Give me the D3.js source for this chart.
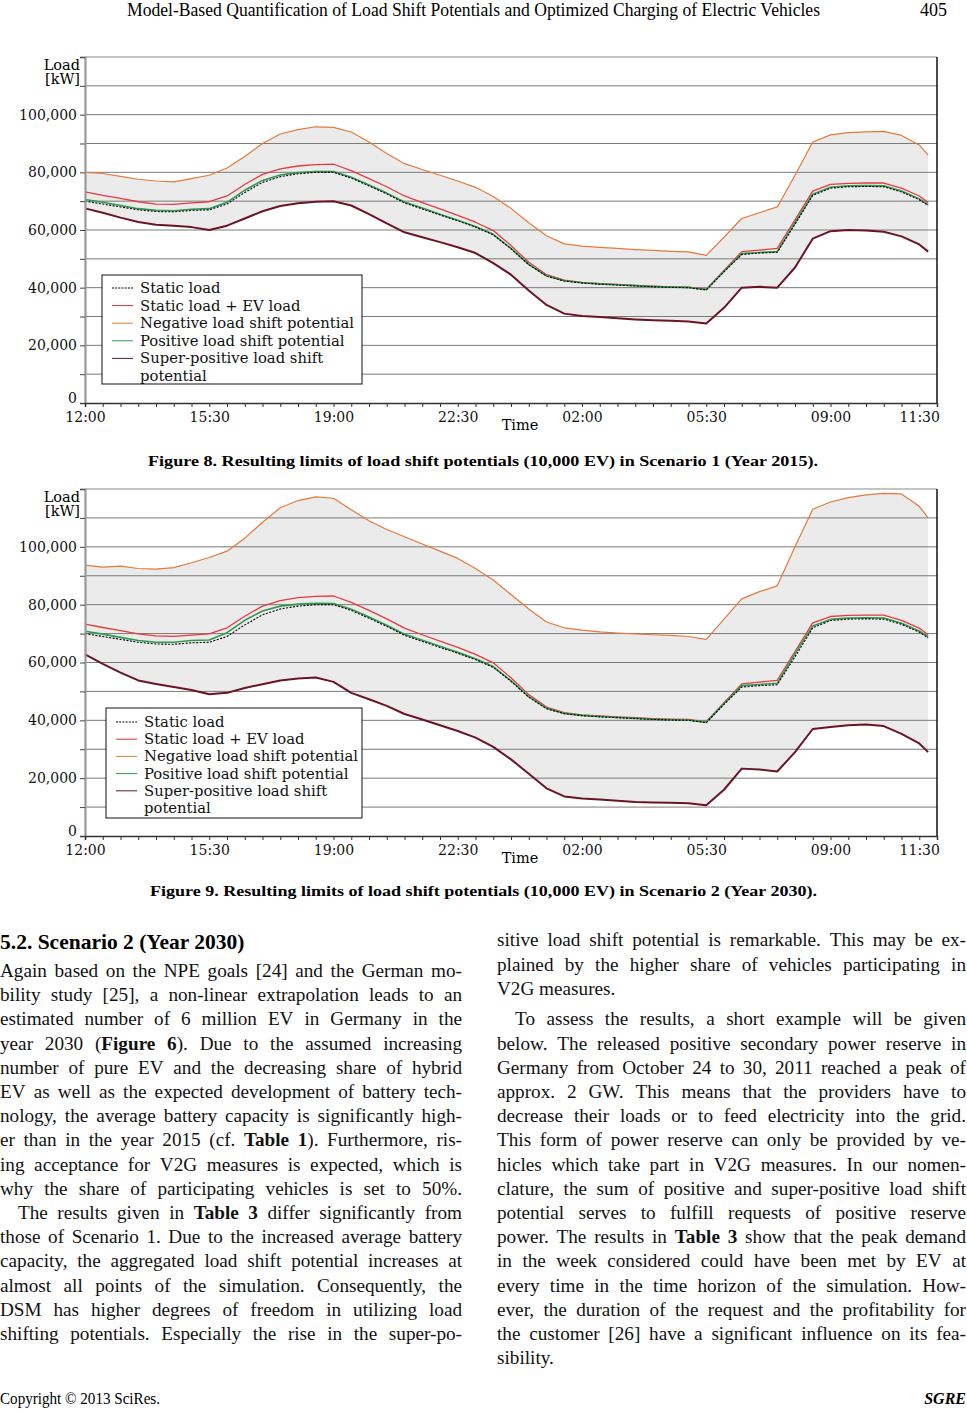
<!DOCTYPE html>
<html><head><meta charset="utf-8">
<script src="https://cdn.jsdelivr.net/npm/d3@7"></script>
<style>body{margin:0;background:#fff}svg{display:block}</style>
</head><body>
<svg id="page" width="967" height="1414"></svg>
<script>
// ---------------- DATA ----------------
const times = ["12:00","12:30","13:00","13:30","14:00","14:30","15:00","15:30","16:00","16:30","17:00","17:30","18:00","18:30","19:00","19:30","20:00","20:30","21:00","21:30","22:00","22:30","23:00","23:30","00:00","00:30","01:00","01:30","02:00","02:30","03:00","03:30","04:00","04:30","05:00","05:30","06:00","06:30","07:00","07:30","08:00","08:30","09:00","09:30","10:00","10:30","11:00","11:30","11:45"];
const xTickLabels = ["12:00","15:30","19:00","22:30","02:00","05:30","09:00","11:30"];
const yTickValues = [0,10000,20000,30000,40000,50000,60000,70000,80000,90000,100000,110000,120000];
const yLabelValues = [0,20000,40000,60000,80000,100000];

// Figure 8 (Scenario 1), values in 1,000 kW
const static1K = [70.0,69.0,68.0,67.0,66.4,66.3,66.8,67.0,69.0,73.0,76.5,78.5,79.5,80.0,80.0,78.0,75.3,72.5,69.4,67.3,65.2,63.2,61.0,58.3,53.5,48.0,44.0,42.3,41.6,41.2,40.9,40.6,40.3,40.1,40.0,39.2,45.5,51.5,52.0,52.3,62.0,72.0,74.5,75.0,75.1,75.0,73.2,70.5,68.5];
const staticEV1K = [73.2,72.0,71.0,69.8,69.0,68.9,69.4,69.8,71.8,75.8,79.3,81.2,82.2,82.7,82.8,80.6,77.8,75.0,71.8,69.5,67.3,65.1,62.7,59.8,54.6,48.8,44.5,42.6,41.8,41.4,41.1,40.8,40.5,40.3,40.2,39.5,46.0,52.5,53.0,53.6,63.5,73.5,75.8,76.2,76.3,76.3,74.5,71.8,69.5];
const negative1K = [80.0,79.6,78.6,77.6,77.0,76.7,77.8,79.0,81.5,85.5,90.0,93.3,94.8,95.8,95.6,94.0,90.5,86.5,83.0,81.0,79.0,77.0,74.8,71.6,67.5,62.5,58.0,55.2,54.4,54.0,53.6,53.2,52.9,52.6,52.4,51.2,57.5,64.0,66.0,68.0,79.0,90.5,93.0,93.8,94.0,94.2,92.8,89.5,86.0];
const positive1K = [70.6,69.6,68.5,67.4,66.8,66.7,67.2,67.4,69.6,73.8,77.2,79.1,79.9,80.3,80.3,78.3,75.6,72.8,69.7,67.6,65.5,63.4,61.2,58.5,53.6,48.1,44.1,42.4,41.7,41.3,41.0,40.7,40.4,40.2,40.1,39.3,45.7,51.8,52.2,52.5,62.5,72.4,74.8,75.3,75.4,75.3,73.5,70.8,68.8];
const superPos1K = [67.5,66.0,64.3,62.8,61.8,61.5,61.0,60.0,61.5,64.0,66.5,68.3,69.3,69.8,70.0,68.5,65.5,62.3,59.2,57.5,55.8,54.0,52.0,48.5,44.5,39.0,34.0,31.0,30.2,29.8,29.4,29.0,28.7,28.5,28.3,27.6,33.0,40.0,40.3,40.0,47.0,57.0,59.6,60.0,59.8,59.4,57.8,55.0,52.5];

// Figure 9 (Scenario 2), values in 1,000 kW
const static2K = [70.0,69.0,68.0,67.0,66.4,66.3,66.8,67.0,69.0,73.0,76.5,78.5,79.5,80.0,80.0,78.0,75.3,72.5,69.4,67.3,65.2,63.2,61.0,58.3,53.5,48.0,44.0,42.3,41.6,41.2,40.9,40.6,40.3,40.1,40.0,39.2,45.5,51.5,52.0,52.3,62.0,72.0,74.5,75.0,75.1,75.0,73.2,70.5,68.5];
const staticEV2K = [73.3,72.1,71.0,69.9,69.2,69.0,69.5,69.9,72.0,76.0,79.5,81.4,82.4,82.9,83.0,80.8,78.0,75.1,71.9,69.6,67.4,65.2,62.8,59.9,54.7,48.9,44.6,42.7,41.9,41.5,41.2,40.9,40.6,40.4,40.3,39.5,46.1,52.6,53.2,53.8,63.8,73.7,75.9,76.3,76.4,76.4,74.6,71.9,69.6];
const negative2K = [93.7,93.0,93.3,92.5,92.3,92.8,94.5,96.3,98.5,103.0,108.5,113.5,116.0,117.3,116.8,112.8,109.0,106.0,103.5,101.0,98.5,96.0,92.5,88.5,83.5,78.5,74.0,72.0,71.2,70.6,70.2,69.9,69.6,69.4,69.0,68.0,75.0,82.0,84.5,86.5,100.0,113.0,115.5,117.0,118.0,118.5,118.3,114.0,110.0];
const positive2K = [70.8,69.8,68.7,67.6,67.0,67.0,67.6,67.8,70.3,74.6,77.8,79.5,80.2,80.5,80.4,78.4,75.7,72.9,69.8,67.7,65.6,63.5,61.3,58.6,53.7,48.2,44.2,42.4,41.7,41.3,41.0,40.7,40.4,40.2,40.1,39.3,45.8,52.0,52.4,52.8,63.0,72.6,74.9,75.4,75.5,75.4,73.6,70.9,68.9];
const superPos2K = [62.8,59.5,56.5,53.8,52.6,51.5,50.5,49.0,49.5,51.2,52.5,53.8,54.5,54.8,53.3,49.5,47.3,45.0,42.2,40.3,38.3,36.3,34.0,30.8,26.5,21.5,16.5,13.7,13.0,12.6,12.2,11.8,11.6,11.5,11.3,10.6,16.0,23.3,23.0,22.3,29.0,37.0,37.7,38.3,38.6,38.0,35.3,32.0,29.0];

const legendLabels = ["Static load","Static load + EV load","Negative load shift potential","Positive load shift potential","Super-positive load shift","potential"];

const headerText = "Model-Based Quantification of Load Shift Potentials and Optimized Charging of Electric Vehicles";
const caption8 = "Figure 8. Resulting limits of load shift potentials (10,000 EV) in Scenario 1 (Year 2015).";
const caption9 = "Figure 9. Resulting limits of load shift potentials (10,000 EV) in Scenario 2 (Year 2030).";
const sectionTitle = "5.2. Scenario 2 (Year 2030)";
const leftLines = [
 ["Again based on the NPE goals [24] and the German mo-",1,0],
 ["bility study [25], a non-linear extrapolation leads to an",1,0],
 ["estimated number of 6 million EV in Germany in the",1,0],
 ["year 2030 (*Figure 6*). Due to the assumed increasing",1,0],
 ["number of pure EV and the decreasing share of hybrid",1,0],
 ["EV as well as the expected development of battery tech-",1,0],
 ["nology, the average battery capacity is significantly high-",1,0],
 ["er than in the year 2015 (cf. *Table 1*). Furthermore, ris-",1,0],
 ["ing acceptance for V2G measures is expected, which is",1,0],
 ["why the share of participating vehicles is set to 50%.",1,0],
 ["The results given in *Table 3* differ significantly from",1,1],
 ["those of Scenario 1. Due to the increased average battery",1,0],
 ["capacity, the aggregated load shift potential increases at",1,0],
 ["almost all points of the simulation. Consequently, the",1,0],
 ["DSM has higher degrees of freedom in utilizing load",1,0],
 ["shifting potentials. Especially the rise in the super-po-",1,0]
];
const rightLines = [
 ["sitive load shift potential is remarkable. This may be ex-",1,0],
 ["plained by the higher share of vehicles participating in",1,0],
 ["V2G measures.",0,0],
 ["To assess the results, a short example will be given",1,1],
 ["below. The released positive secondary power reserve in",1,0],
 ["Germany from October 24 to 30, 2011 reached a peak of",1,0],
 ["approx. 2 GW. This means that the providers have to",1,0],
 ["decrease their loads or to feed electricity into the grid.",1,0],
 ["This form of power reserve can only be provided by ve-",1,0],
 ["hicles which take part in V2G measures. In our nomen-",1,0],
 ["clature, the sum of positive and super-positive load shift",1,0],
 ["potential serves to fulfill requests of positive reserve",1,0],
 ["power. The results in *Table 3* show that the peak demand",1,0],
 ["in the week considered could have been met by EV at",1,0],
 ["every time in the time horizon of the simulation. How-",1,0],
 ["ever, the duration of the request and the profitability for",1,0],
 ["the customer [26] have a significant influence on its fea-",1,0],
 ["sibility.",0,0]
];

// ---------------- DRAWING ----------------
const svg = d3.select("#page");
const chartFont = "DejaVu Serif";
const textFont = "Liberation Serif";
const hoursOf = s => { const [h,m] = s.split(":").map(Number); return ((h - 12 + 24) % 24) + m/60; };
const x = d3.scaleLinear().domain([0,24]).range([85,937]);

const COL = {static:"#000000", ev:"#e63b3f", neg:"#e47a3b", pos:"#2f9a52", sup:"#6a1428"};

function drawChart(c) {
  const y = d3.scaleLinear().domain([0,120000]).range([c.bottom, c.top]);
  const g = svg.append("g");
  const pts = times.map((t,i) => ({h:hoursOf(t), st:c.st[i]*1000, ev:c.ev[i]*1000, neg:c.neg[i]*1000, pos:c.pos[i]*1000, sup:c.sup[i]*1000}));

  g.append("path").datum(pts)
    .attr("d", d3.area().x(d=>x(d.h)).y0(d=>y(d.sup)).y1(d=>y(d.neg)))
    .attr("fill","#ebebeb");

  g.selectAll("line.grid").data(yTickValues.filter(v=>v>0)).join("line")
    .attr("x1",x(0)).attr("x2",x(24)).attr("y1",d=>y(d)).attr("y2",d=>y(d))
    .attr("stroke", d => d===120000 ? "#8a8a8a" : "#7a7a7a").attr("stroke-width",1);
  g.append("line").attr("x1",x(24)).attr("x2",x(24)).attr("y1",y(120000)).attr("y2",y(0))
    .attr("stroke","#111").attr("stroke-width",1.5);

  const line = key => d3.line().x(d=>x(d.h)).y(d=>y(d[key]));
  const series = [
    {k:"sup", c:COL.sup, w:2},
    {k:"neg", c:COL.neg, w:1.2},
    {k:"ev", c:COL.ev, w:1.3},
    {k:"pos", c:COL.pos, w:1.6},
    {k:"st", c:COL.static, w:1.1, dash:"2,1.5"}
  ];
  series.forEach(s => {
    g.append("path").datum(pts).attr("d", line(s.k)).attr("fill","none")
      .attr("stroke", s.c).attr("stroke-width", s.w).attr("stroke-linejoin","round")
      .attr("stroke-dasharray", s.dash || null);
  });

  // axes
  const ya = g.append("g").attr("transform",`translate(${x(0)},0)`)
    .call(d3.axisLeft(y).tickValues(yTickValues).tickSize(5).tickPadding(3)
      .tickFormat(d => yLabelValues.includes(d) ? d3.format(",")(d) : ""));
  ya.select(".domain").attr("stroke","#999").attr("stroke-width",2.2);
  ya.selectAll(".tick line").attr("stroke","#444");
  ya.selectAll("text").attr("font-family",chartFont).attr("font-size",14).attr("fill","#111");
  ya.selectAll(".tick").filter(d => d===0).select("text").attr("dy","-0.05em");

  const xTicks = times.slice(0,48).map(hoursOf).concat([24]);
  const labelHours = xTickLabels.map(hoursOf);
  const xa = g.append("g").attr("transform",`translate(0,${y(0)})`)
    .call(d3.axisBottom(x).tickValues(xTicks).tickSize(4).tickPadding(5)
      .tickFormat(d => { const i = labelHours.indexOf(d); return i>=0 ? xTickLabels[i] : ""; }));
  xa.select(".domain").attr("stroke","#333").attr("stroke-width",1.5);
  xa.selectAll(".tick line").attr("stroke","#333");
  xa.selectAll("text").attr("font-family",chartFont).attr("font-size",14).attr("fill","#111");

  g.append("text").attr("x",80).attr("y",c.top+13).attr("text-anchor","end")
    .attr("font-family",chartFont).attr("font-size",14.5).text("Load");
  g.append("text").attr("x",80).attr("y",c.top+27).attr("text-anchor","end")
    .attr("font-family",chartFont).attr("font-size",14.5).text("[kW]");
  g.append("text").attr("x",520).attr("y",y(0)+27).attr("text-anchor","middle")
    .attr("font-family",chartFont).attr("font-size",14.5).text("Time");

  // legend
  const L = c.legend;
  const lg = g.append("g");
  lg.append("rect").attr("x",L.x).attr("y",L.y).attr("width",L.w).attr("height",L.h)
    .attr("fill","#fff").attr("stroke","#111").attr("stroke-width",1);
  const legCols = [COL.static,"#c8343a","#d9822b","#2f9a52","#5c1a2a",null];
  legendLabels.forEach((lab,i) => {
    const cy = L.y + L.first + i*L.step;
    if (legCols[i]) lg.append("line").attr("x1",L.x+10).attr("x2",L.x+31).attr("y1",cy).attr("y2",cy)
      .attr("stroke",legCols[i]).attr("stroke-width",1).attr("stroke-dasharray", i===0 ? "2,1.2" : null);
    lg.append("text").attr("x",L.x+38).attr("y",cy+5).attr("font-family",chartFont).attr("font-size",14.8)
      .attr("fill","#111").text(lab);
  });
}

drawChart({top:57, bottom:403, st:static1K, ev:staticEV1K, neg:negative1K, pos:positive1K, sup:superPos1K,
  legend:{x:102, y:275, w:260, h:109, first:13, step:17.6}});
drawChart({top:489, bottom:836, st:static2K, ev:staticEV2K, neg:negative2K, pos:positive2K, sup:superPos2K,
  legend:{x:106, y:708, w:256, h:110, first:14, step:17.2}});

// header & captions
svg.append("text").attr("x",127).attr("y",16).attr("font-family",textFont).attr("font-size",18)
  .attr("textLength",693).attr("lengthAdjust","spacingAndGlyphs").text(headerText);
svg.append("text").attr("x",947).attr("y",16).attr("text-anchor","end").attr("font-family",textFont).attr("font-size",18)
  .text("405");
svg.append("text").attr("x",148).attr("y",466).attr("font-family",textFont).attr("font-size",15).attr("font-weight","bold")
  .attr("textLength",670).attr("lengthAdjust","spacingAndGlyphs").text(caption8);
svg.append("text").attr("x",150).attr("y",896).attr("font-family",textFont).attr("font-size",15).attr("font-weight","bold")
  .attr("textLength",667).attr("lengthAdjust","spacingAndGlyphs").text(caption9);
svg.append("text").attr("x",0).attr("y",949).attr("font-family",textFont).attr("font-size",21.5).attr("font-weight","bold")
  .text(sectionTitle);

// body text with justification
const FS = 19.2;
function drawTextLine(str, x0, width, yb, justify, indent) {
  const g = svg.append("g");
  const words = str.split(" ");
  let bold = false;
  const items = words.map(w => {
    const t = g.append("text").attr("y", yb).attr("font-family", textFont).attr("font-size", FS).attr("fill","#111");
    w.split("*").forEach((p,i) => {
      if (i>0) bold = !bold;
      if (p) t.append("tspan").attr("font-weight", bold ? "bold" : "normal").text(p);
    });
    return {el:t, w:t.node().getComputedTextLength()};
  });
  const start = indent ? 18 : 0;
  const avail = width - start;
  const total = d3.sum(items, d=>d.w);
  const nat = FS*0.25;
  let gap = nat, scale = 1;
  if (justify && items.length>1) {
    gap = (avail - total)/(items.length-1);
    if (gap < nat*0.75) { gap = nat*0.75; scale = avail/(total + gap*(items.length-1)); }
  }
  g.attr("transform", `translate(${x0+start},0) scale(${scale},1)`);
  let cx = 0;
  items.forEach(it => { it.el.attr("x", cx); cx += it.w + gap; });
}
leftLines.forEach((l,i) => drawTextLine(l[0], 0, 462, 977 + i*24.2, l[1], l[2]));
const rightY = [946, 970.5, 995];
rightLines.forEach((l,i) => drawTextLine(l[0], 497, 469, i<3 ? rightY[i] : 977 + (i-1)*24.2, l[1], l[2]));

svg.append("text").attr("x",0).attr("y",1404).attr("font-family",textFont).attr("font-size",16)
  .attr("textLength",160).attr("lengthAdjust","spacingAndGlyphs").text("Copyright © 2013 SciRes.");
svg.append("text").attr("x",966).attr("y",1404).attr("text-anchor","end").attr("font-family",textFont).attr("font-size",16)
  .attr("font-weight","bold").attr("font-style","italic").text("SGRE");
</script>
</body></html>
